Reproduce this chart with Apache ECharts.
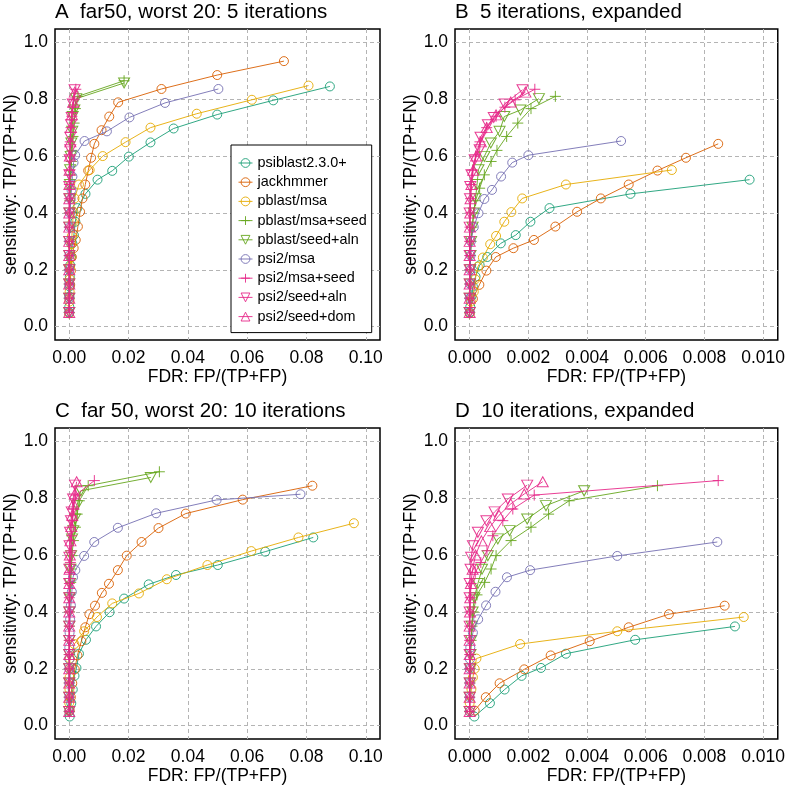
<!DOCTYPE html>
<html><head><meta charset="utf-8">
<script src="https://cdn.jsdelivr.net/npm/echarts@6/dist/echarts.min.js"></script>
<style>html,body{margin:0;padding:0;background:#fff}#c{width:788px;height:790px}</style>
</head><body><div id="c"></div>
<script>
// ---------- data: [FDR, sensitivity] pairs ----------
const seriesNames = ['psiblast2.3.0+','jackhmmer','pblast/msa','pblast/msa+seed','pblast/seed+aln','psi2/msa','psi2/msa+seed','psi2/seed+aln','psi2/seed+dom'];
const panelTitles = ['A  far50, worst 20: 5 iterations','B  5 iterations, expanded','C  far 50, worst 20: 10 iterations','D  10 iterations, expanded'];
const xTicksWide = [0, 0.02, 0.04, 0.06, 0.08, 0.10];
const xTicksExp = [0, 0.002, 0.004, 0.006, 0.008, 0.010];
const yTicks = [0, 0.2, 0.4, 0.6, 0.8, 1.0];

// 5 iterations
const it5_psiblast = [[0,0.05],[0.00002,0.07],[0.00006,0.106],[0.00011,0.141],[0.0002,0.176],[0.00034,0.216],[0.0006,0.245],[0.00106,0.293],[0.00157,0.322],[0.00207,0.369],[0.00272,0.417],[0.00548,0.467],[0.00954,0.517],[0.0145,0.548],[0.0201,0.598],[0.0274,0.648],[0.0352,0.697],[0.0499,0.746],[0.0688,0.796],[0.0879,0.845]];
const it5_jackhmmer = [[0,0.047],[0.00011,0.098],[0.00033,0.147],[0.00057,0.197],[0.00089,0.245],[0.00149,0.276],[0.00219,0.305],[0.00292,0.352],[0.00366,0.404],[0.00447,0.451],[0.00542,0.5],[0.0064,0.549],[0.00737,0.594],[0.00847,0.643],[0.0109,0.691],[0.0135,0.739],[0.0165,0.789],[0.0311,0.836],[0.0499,0.885],[0.0724,0.934]];
const it5_pblastMsa = [[0,0.047],[0.00004,0.088],[0.00014,0.123],[0.00019,0.167],[0.00028,0.211],[0.00045,0.243],[0.0007,0.29],[0.0009,0.319],[0.00118,0.369],[0.00142,0.403],[0.00179,0.451],[0.00328,0.5],[0.00689,0.551],[0.0113,0.6],[0.019,0.649],[0.0274,0.7],[0.043,0.749],[0.0616,0.798],[0.0807,0.848]];
const it5_pblastMsaSeed = [[0,0.05],[0,0.1],[0.00001,0.15],[0.00002,0.2],[0.00003,0.25],[0.00005,0.3],[0.00008,0.35],[0.00013,0.4],[0.0002,0.443],[0.00034,0.487],[0.0005,0.534],[0.00073,0.581],[0.00093,0.62],[0.00126,0.669],[0.00164,0.716],[0.00209,0.767],[0.00292,0.81],[0.0185,0.865]];
const it5_pblastSeedAln = [[0,0.05],[0,0.1],[0.00001,0.15],[0.00002,0.2],[0.00003,0.25],[0.00005,0.3],[0.0001,0.35],[0.00014,0.4],[0.0002,0.45],[0.00025,0.5],[0.0003,0.552],[0.0005,0.599],[0.00072,0.646],[0.00102,0.687],[0.00118,0.739],[0.00173,0.762],[0.00236,0.802],[0.0185,0.857]];
const it5_psi2Msa = [[0,0.05],[0,0.1],[0.00001,0.15],[0.00002,0.2],[0.00003,0.25],[0.00004,0.3],[0.00014,0.35],[0.0003,0.399],[0.0005,0.449],[0.00076,0.481],[0.00107,0.528],[0.00145,0.577],[0.002,0.603],[0.00516,0.653],[0.0127,0.687],[0.0203,0.736],[0.0323,0.787],[0.0503,0.836]];
const it5_psi2MsaSeed = [[0,0.05],[0,0.1],[0,0.15],[0,0.2],[0,0.25],[0,0.3],[0.00001,0.35],[0.00002,0.4],[0.00003,0.45],[0.00005,0.5],[0.0001,0.55],[0.0002,0.6],[0.00035,0.65],[0.00058,0.7],[0.0009,0.74],[0.0012,0.772],[0.00155,0.798],[0.00222,0.835]];
const it5_psi2SeedAln = [[0,0.05],[0,0.1],[0,0.15],[0,0.2],[0,0.25],[0,0.3],[0,0.35],[0,0.4],[0.00001,0.45],[0.00002,0.493],[0.00006,0.534],[0.00017,0.587],[0.00034,0.622],[0.00037,0.666],[0.00062,0.71],[0.00082,0.736],[0.00119,0.783],[0.0018,0.833]];
const it5_psi2SeedDom = [[0,0.05],[0,0.1],[0,0.15],[0,0.2],[0,0.25],[0,0.3],[0.00001,0.35],[0.00002,0.4],[0.00003,0.45],[0.00006,0.5],[0.00012,0.55],[0.00022,0.6],[0.00038,0.65],[0.00058,0.7],[0.0009,0.745],[0.0014,0.79],[0.0019,0.825]];

// 10 iterations
const it10_psiblast = [[0.00016,0.032],[0.00069,0.079],[0.00119,0.127],[0.00177,0.175],[0.00243,0.203],[0.00328,0.253],[0.00564,0.302],[0.00904,0.349],[0.0136,0.399],[0.0185,0.447],[0.0268,0.497],[0.036,0.53],[0.0501,0.565],[0.0661,0.612],[0.0823,0.662]];
const it10_jackhmmer = [[0.00017,0.053],[0.00055,0.1],[0.00102,0.149],[0.00186,0.198],[0.00276,0.247],[0.00409,0.297],[0.00542,0.346],[0.00679,0.392],[0.00869,0.422],[0.011,0.467],[0.0134,0.499],[0.0164,0.547],[0.0194,0.598],[0.0244,0.646],[0.0301,0.695],[0.0393,0.746],[0.0585,0.795],[0.082,0.844]];
const it10_pblastMsa = [[0,0.05],[0,0.08],[0.00006,0.129],[0.00011,0.17],[0.00017,0.2],[0.00023,0.236],[0.00172,0.287],[0.00503,0.332],[0.00934,0.382],[0.0145,0.43],[0.0235,0.465],[0.0329,0.515],[0.0466,0.565],[0.0614,0.614],[0.0773,0.662],[0.096,0.712]];
const it10_pblastMsaSeed = [[0,0.05],[0,0.1],[0.00001,0.15],[0.00002,0.2],[0.00003,0.25],[0.00005,0.3],[0.00008,0.35],[0.00012,0.4],[0.00025,0.46],[0.00051,0.504],[0.00073,0.551],[0.0009,0.598],[0.00141,0.651],[0.00209,0.698],[0.00269,0.744],[0.00339,0.791],[0.0064,0.844],[0.0304,0.893]];
const it10_pblastSeedAln = [[0,0.05],[0,0.1],[0.00001,0.15],[0.00002,0.2],[0.00003,0.25],[0.00005,0.3],[0.00007,0.35],[0.0001,0.4],[0.00016,0.45],[0.00028,0.5],[0.00042,0.55],[0.00062,0.598],[0.00096,0.657],[0.00136,0.686],[0.00196,0.727],[0.0026,0.774],[0.0039,0.826],[0.0275,0.873]];
const it10_psi2Msa = [[0,0.05],[0,0.1],[0,0.15],[0,0.2],[0.00001,0.234],[0.00002,0.275],[0.00011,0.327],[0.00029,0.374],[0.00056,0.423],[0.00088,0.471],[0.00127,0.522],[0.00206,0.547],[0.00503,0.597],[0.00844,0.646],[0.0164,0.696],[0.0293,0.747],[0.0497,0.794],[0.078,0.814]];
const it10_psi2MsaSeed = [[0,0.05],[0,0.1],[0,0.15],[0,0.2],[0,0.25],[0,0.3],[0,0.35],[0.00001,0.4],[0.00002,0.45],[0.00005,0.5],[0.00019,0.539],[0.00038,0.574],[0.00059,0.615],[0.00079,0.668],[0.00113,0.721],[0.00147,0.762],[0.0022,0.811],[0.00847,0.862]];
const it10_psi2SeedAln = [[0,0.05],[0,0.1],[0,0.15],[0,0.2],[0,0.25],[0,0.3],[0,0.35],[0,0.4],[0,0.45],[0,0.5],[0.00003,0.55],[0.00005,0.592],[0.00011,0.633],[0.00028,0.68],[0.00057,0.721],[0.00085,0.752],[0.0013,0.797],[0.00196,0.846]];
const it10_psi2SeedDom = [[0,0.05],[0,0.1],[0,0.15],[0,0.2],[0,0.25],[0,0.3],[0,0.35],[0.00001,0.4],[0.00002,0.45],[0.00004,0.5],[0.0001,0.55],[0.0002,0.6],[0.0004,0.65],[0.0007,0.7],[0.001,0.74],[0.0014,0.78],[0.00186,0.815],[0.00249,0.858]];

const it5 = [it5_psiblast,it5_jackhmmer,it5_pblastMsa,it5_pblastMsaSeed,it5_pblastSeedAln,it5_psi2Msa,it5_psi2MsaSeed,it5_psi2SeedAln,it5_psi2SeedDom];
const it10 = [it10_psiblast,it10_jackhmmer,it10_pblastMsa,it10_pblastMsaSeed,it10_pblastSeedAln,it10_psi2Msa,it10_psi2MsaSeed,it10_psi2SeedAln,it10_psi2SeedDom];

// ---------- styling ----------
const colors = ['#1B9E77','#D95F02','#E6AB02','#66A61E','#66A61E','#7570B3','#E7298A','#E7298A','#E7298A'];
const PLUS = 'path://M5,0L5,10M0,5L10,5';
const TRI_DOWN = 'path://M0,0L10,0L5,8.66Z';
const TRI_UP = 'path://M5,0L10,8.66L0,8.66Z';
const symbols = ['circle','circle','circle',PLUS,TRI_DOWN,'circle',PLUS,TRI_DOWN,TRI_UP];
const symSizes = [9,9,9,11,[11,10],9,11,[11,10],[11,10]];

const FONT = 'Liberation Sans, Arial, Helvetica, sans-serif';
const grids = [
  {left:55, top:29, width:325, height:311},
  {left:455, top:29, width:325, height:311},
  {left:55, top:428, width:325, height:311},
  {left:455, top:428, width:325, height:311}
];
const xRanges = [[-0.0048,0.1048],[-0.0005,0.0105],[-0.0048,0.1048],[-0.0005,0.0105]];
const yRange = [-0.047,1.047];

const option = {
  animation:false,
  backgroundColor:'#fff',
  textStyle:{fontFamily:FONT},
  title: panelTitles.map((t,i)=>({text:t, left:grids[i].left, top:grids[i].top-27, padding:[0,0,0,0],
     textStyle:{fontFamily:FONT,fontSize:20.5,fontWeight:'normal',color:'#000'}})),
  grid: grids.map(g=>Object.assign({show:true, borderColor:'#000', borderWidth:1.5, containLabel:false}, g)),
  xAxis: grids.map((g,i)=>{
    const ticks = (i%2===0)?xTicksWide:xTicksExp;
    const dec = (i%2===0)?2:3;
    return {
      gridIndex:i, type:'value', min:xRanges[i][0], max:xRanges[i][1],
      axisLine:{show:false},
      axisTick:{show:false, customValues:ticks},
      axisLabel:{customValues:ticks, formatter:v=>v.toFixed(dec), fontSize:17.5, color:'#000', margin:9, fontFamily:FONT},
      splitLine:{show:true, customValues:ticks, lineStyle:{type:[4,3], color:'#b4b4b4', width:1}},
      name:'FDR: FP/(TP+FP)', nameLocation:'middle', nameGap:28,
      nameTextStyle:{fontSize:17.5, color:'#000', fontFamily:FONT}
    };
  }),
  yAxis: grids.map((g,i)=>({
    gridIndex:i, type:'value', min:yRange[0], max:yRange[1],
    axisLine:{show:false},
    axisTick:{show:false, customValues:yTicks},
    axisLabel:{customValues:yTicks, formatter:v=>v.toFixed(1), fontSize:17.5, color:'#000', margin:7, fontFamily:FONT},
    splitLine:{show:true, customValues:yTicks, lineStyle:{type:[4,3], color:'#b4b4b4', width:1}},
    name:'sensitivity: TP/(TP+FN)', nameLocation:'middle', nameGap:35,
    nameTextStyle:{fontSize:17.5, color:'#000', fontFamily:FONT}
  })),
  legend:{
    show:true, orient:'vertical', left:231, top:145,
    padding:[11,5,9,7], itemGap:5.2, itemWidth:14, itemHeight:11,
    borderColor:'#000', borderWidth:1, backgroundColor:'#fff',
    itemStyle:{color:'rgba(255,255,255,0)', borderWidth:1},
    lineStyle:{width:1},
    textStyle:{fontSize:14.4, lineHeight:14, color:'#000', fontFamily:FONT},
    data: seriesNames
  },
  series:[]
};

const sets = [it5, it5, it10, it10];
sets.forEach((set, gi)=>{
  set.forEach((pts, si)=>{
    const data = pts.filter(p=>p[0] <= xRanges[gi][1]);
    option.series.push({
      name: seriesNames[si], type:'line', xAxisIndex:gi, yAxisIndex:gi,
      data: data,
      symbol: symbols[si], symbolSize: symSizes[si], showSymbol:true,
      lineStyle:{color:colors[si], width:1, opacity:0.9},
      itemStyle:{color:'rgba(255,255,255,0)', borderColor:colors[si], borderWidth:1, opacity:0.9},
      emphasis:{disabled:true}, silent:true, clip:true, z:2+si
    });
  });
});

const chart = echarts.init(document.getElementById('c'), null, {renderer:'canvas'});
chart.setOption(option);
</script></body></html>
